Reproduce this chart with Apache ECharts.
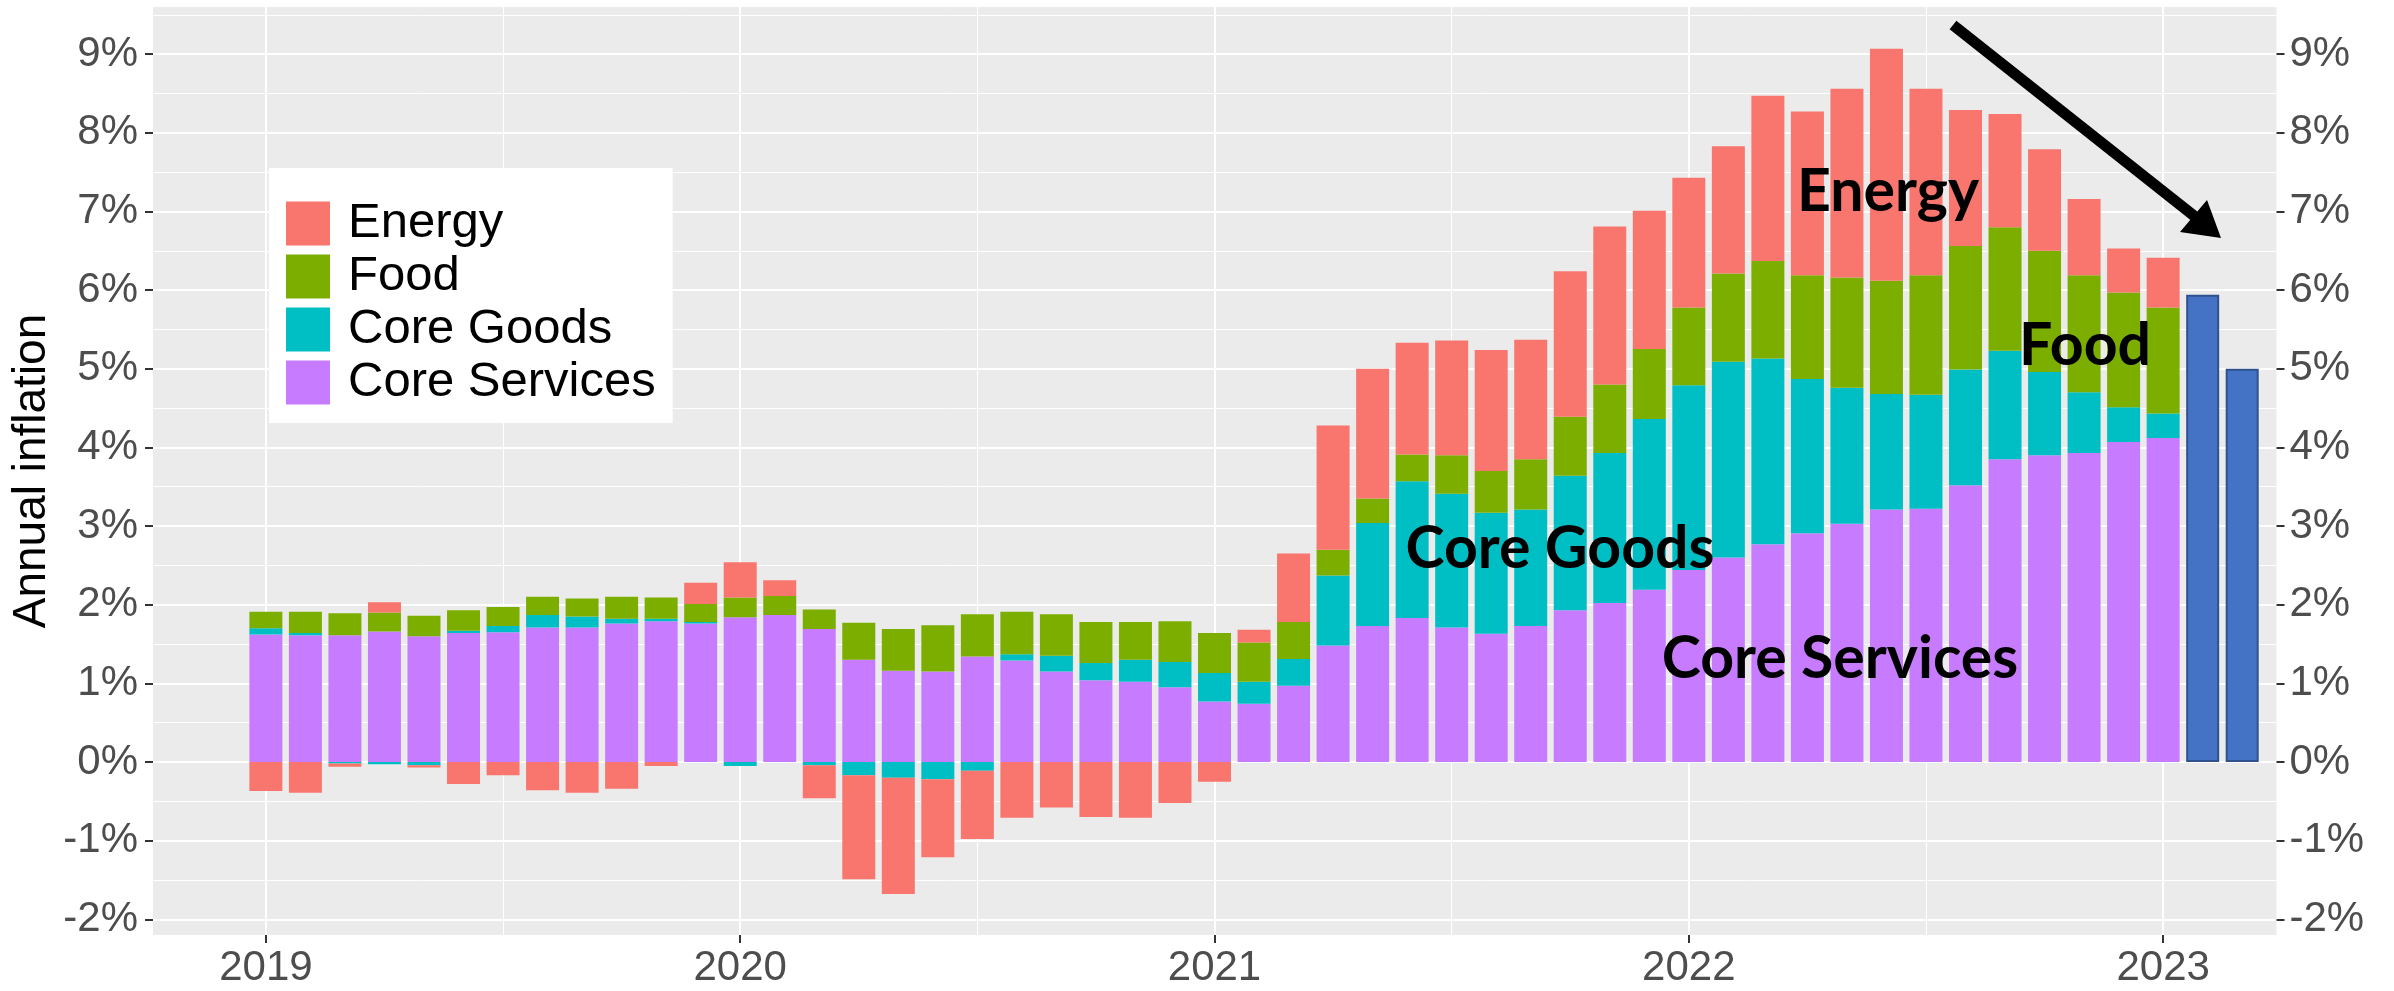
<!DOCTYPE html>
<html><head><meta charset="utf-8">
<script src="https://cdn.jsdelivr.net/npm/echarts@6/dist/echarts.min.js"></script>
<style>html,body{margin:0;padding:0;background:#fff}#c{width:2394px;height:991px}</style>
</head><body><div id="c"></div>
<script>
// ---------- data (percentage-point contributions to annual CPI inflation) ----------
const months = [
  '2019-01','2019-02','2019-03','2019-04','2019-05','2019-06','2019-07','2019-08','2019-09','2019-10','2019-11','2019-12',
  '2020-01','2020-02','2020-03','2020-04','2020-05','2020-06','2020-07','2020-08','2020-09','2020-10','2020-11','2020-12',
  '2021-01','2021-02','2021-03','2021-04','2021-05','2021-06','2021-07','2021-08','2021-09','2021-10','2021-11','2021-12',
  '2022-01','2022-02','2022-03','2022-04','2022-05','2022-06','2022-07','2022-08','2022-09','2022-10','2022-11','2022-12',
  '2023-01'
];
const coreServices = [
  1.62,1.61,1.61,1.66,1.60,1.64,1.65,1.71,1.71,1.76,1.79,1.76,
  1.84,1.87,1.69,1.30,1.16,1.15,1.34,1.29,1.15,1.04,1.02,0.95,
  0.77,0.74,0.97,1.48,1.73,1.83,1.71,1.63,1.73,1.93,2.02,2.19,
  2.44,2.60,2.77,2.91,3.03,3.21,3.22,3.52,3.85,3.90,3.93,4.07,
  4.12
];
const coreGoods = [
  0.08,0.03,-0.02,-0.03,-0.04,0.03,0.08,0.16,0.14,0.06,0.03,0.02,
  -0.05,0.00,-0.04,-0.17,-0.20,-0.22,-0.11,0.08,0.20,0.22,0.28,0.32,
  0.36,0.28,0.34,0.89,1.31,1.74,1.70,1.54,1.48,1.71,1.91,2.17,
  2.35,2.49,2.36,1.96,1.73,1.47,1.45,1.47,1.38,1.06,0.77,0.44,
  0.31
];
const food = [
  0.21,0.27,0.28,0.24,0.26,0.26,0.24,0.23,0.23,0.28,0.27,0.23,
  0.25,0.24,0.25,0.47,0.53,0.59,0.54,0.54,0.53,0.52,0.48,0.52,
  0.51,0.50,0.47,0.33,0.31,0.34,0.49,0.53,0.64,0.75,0.87,0.89,
  0.99,1.12,1.24,1.32,1.40,1.44,1.52,1.57,1.57,1.54,1.49,1.46,
  1.35
];
const energy = [
  -0.37,-0.39,-0.04,0.13,-0.03,-0.28,-0.17,-0.36,-0.39,-0.34,-0.05,0.27,
  0.45,0.20,-0.42,-1.32,-1.48,-0.99,-0.87,-0.71,-0.58,-0.70,-0.71,-0.52,
  -0.25,0.16,0.87,1.58,1.65,1.42,1.46,1.54,1.52,1.85,2.01,1.76,
  1.65,1.62,2.10,2.08,2.40,2.95,2.37,1.73,1.44,1.29,0.97,0.56,
  0.63
];
const forecastMonths = ['2023-02','2023-03'];
const forecast = [5.94, 5.00];

const yearTicks = [2019, 2020, 2021, 2022, 2023];
const yearMinorTicks = [2019.5, 2020.5, 2021.5, 2022.5];
const yTicks = [-2,-1,0,1,2,3,4,5,6,7,8,9];
const yMinorTicks = [-1.5,-0.5,0.5,1.5,2.5,3.5,4.5,5.5,6.5,7.5,8.5,9.5];

const seriesNames = ['Core Services','Core Goods','Food','Energy'];
const legendOrder = ['Energy','Food','Core Goods','Core Services'];
const colors = {'Energy':'#F8766D','Food':'#7CAE00','Core Goods':'#00BFC4','Core Services':'#C77CFF'};

// ---------- build ----------
function toYear(s){ const p = s.split('-').map(Number); return p[0] + (p[1]-1)/12; }
const allMonths = months.concat(forecastMonths);
const xs = allMonths.map(toYear);
const nHist = months.length;
// rows are [value, time] so that the stacked dimension is the value (y) column
function histData(vals){ return xs.map((x,i)=> [i < nHist ? vals[i] : null, x]); }
function fcData(vals){ return xs.map((x,i)=> [i >= nHist ? vals[i-nHist] : null, x]); }

const FONT = "'Liberation Sans', Arial, sans-serif";
const X_MIN = 2018.762, X_MAX = 2023.239, Y_MIN = -2.2, Y_MAX = 9.6;
const tickStyle = {length: 8, lineStyle: {color: '#333333', width: 2}};
const BAR_W = 33;
const noLine = {show: false, onZero: false};

const valueMap = {'Core Services': coreServices, 'Core Goods': coreGoods, 'Food': food, 'Energy': energy};
const series = seriesNames.map(n => ({
  name: n, type: 'bar', stack: 'cpi', barWidth: BAR_W,
  encode: {x: 1, y: 0},
  itemStyle: {color: colors[n]},
  data: histData(valueMap[n])
}));
series.push({
  name: 'Forecast', type: 'bar', stack: 'cpi', barWidth: BAR_W,
  encode: {x: 1, y: 0},
  itemStyle: {color: '#4472C4', borderColor: '#2F528F', borderWidth: 2},
  data: fcData(forecast)
});

const annot = (x, y, text) => ({type: 'text', z: 100, style: {x: x, y: y, text: text, fontSize: 59, fontWeight: 'bold',
  fontFamily: 'Lato', fill: '#000', align: 'center', verticalAlign: 'middle'}});

const chart = echarts.init(document.getElementById('c'), null, {renderer: 'canvas'});
chart.setOption({
  animation: false,
  backgroundColor: '#ffffff',
  grid: {left: 153, top: 7, width: 2123.5, height: 928, show: true, backgroundColor: '#EBEBEB',
         borderWidth: 0, containLabel: false, outerBoundsMode: 'none'},
  xAxis: [
    {type: 'value', min: X_MIN, max: X_MAX, position: 'bottom',
     axisLine: noLine,
     axisTick: Object.assign({show: true, customValues: yearTicks}, tickStyle),
     axisLabel: {customValues: yearTicks, formatter: v => String(v), fontSize: 42, color: '#4D4D4D',
                 fontFamily: FONT, margin: 12},
     splitLine: {show: true, lineStyle: {color: '#ffffff', width: 2}}},
    {type: 'value', min: X_MIN, max: X_MAX, position: 'bottom',
     axisLine: noLine, axisTick: {show: false, customValues: yearMinorTicks},
     axisLabel: {show: false, customValues: yearMinorTicks},
     splitLine: {show: true, lineStyle: {color: '#ffffff', width: 1}}}
  ],
  yAxis: [
    {type: 'value', min: Y_MIN, max: Y_MAX, position: 'left',
     name: 'Annual inflation', nameLocation: 'middle', nameGap: 98, nameRotate: 90, nameMoveOverlap: false,
     nameTextStyle: {fontSize: 46, color: '#000000', fontFamily: FONT},
     axisLine: noLine,
     axisTick: Object.assign({show: true, customValues: yTicks}, tickStyle),
     axisLabel: {customValues: yTicks, formatter: v => v + '%', fontSize: 42, color: '#4D4D4D',
                 fontFamily: FONT, margin: 15},
     splitLine: {show: true, lineStyle: {color: '#ffffff', width: 2}}},
    {type: 'value', min: Y_MIN, max: Y_MAX, position: 'right',
     axisLine: noLine,
     axisTick: Object.assign({show: true, customValues: yTicks}, tickStyle),
     axisLabel: {customValues: yTicks, formatter: v => v + '%', fontSize: 42, color: '#4D4D4D',
                 fontFamily: FONT, margin: 13},
     splitLine: {show: false}},
    {type: 'value', min: Y_MIN, max: Y_MAX, position: 'left',
     axisLine: noLine, axisTick: {show: false, customValues: yMinorTicks},
     axisLabel: {show: false, customValues: yMinorTicks},
     splitLine: {show: true, lineStyle: {color: '#ffffff', width: 1}}}
  ],
  legend: {
    data: legendOrder, orient: 'vertical', left: 269, top: 168,
    backgroundColor: '#ffffff', padding: [31, 17, 16, 17],
    itemWidth: 44, itemHeight: 44, itemGap: 4, icon: 'rect', selectedMode: false,
    textStyle: {fontSize: 49, color: '#000000', fontFamily: FONT, lineHeight: 44, padding: [0, 0, 0, 13]}
  },
  series: series,
  graphic: [
    annot(1888, 192, 'Energy'),
    annot(2085, 346, 'Food'),
    annot(1560, 549, 'Core Goods'),
    annot(1840, 659, 'Core Services'),
    {type: 'line', z: 100, shape: {x1: 1953, y1: 25, x2: 2198, y2: 219}, style: {stroke: '#000', lineWidth: 11}},
    {type: 'polygon', z: 100, shape: {points: [[2221, 238], [2180, 232], [2207, 200]]}, style: {fill: '#000'}}
  ]
});
</script>
</body></html>
